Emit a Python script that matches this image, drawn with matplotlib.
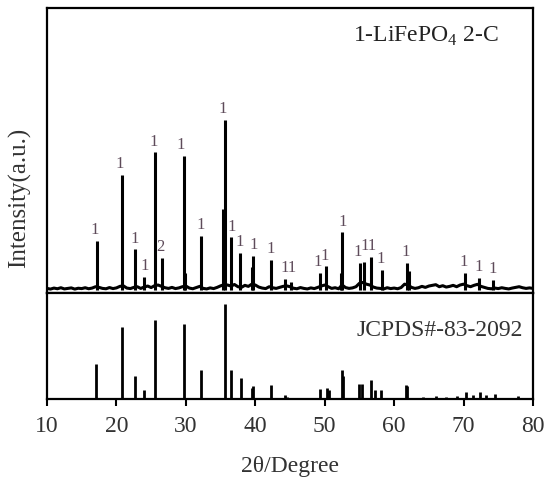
#!/usr/bin/env python3
"""
XRD pattern of LiFePO4/C with JCPDS#-83-2092 reference sticks.
"""

import matplotlib
matplotlib.use('Agg')
import matplotlib.pyplot as plt
import numpy as np

plt.rcParams['font.family'] = ['Liberation Serif', 'DejaVu Serif']
plt.rcParams['mathtext.fontset'] = 'custom'
plt.rcParams['mathtext.rm'] = 'Liberation Serif'

# measured pattern: noisy background sampled every 0.5 deg (10..80)
bg_theta = np.arange(10.0, 80.01, 0.5)
bg_level = [
    1.0, 0.6, 1.2, 0.8, 1.4, 0.7, 1.0, 1.3, 0.6, 1.1, 0.9, 1.4, 0.8, 1.2,
    2.0, 1.6, 1.0, 0.8, 1.5, 0.9, 1.3, 2.2,
    2.5, 1.2, 0.9, 1.6, 2.0, 1.0, 1.8, 2.4,
    1.5, 2.6, 3.0, 2.2, 1.4, 1.0, 1.6, 0.9, 1.3, 2.0,
    2.4, 1.2, 0.8, 1.5, 2.2, 1.0, 0.7, 1.3, 0.9, 1.6,
    2.5, 3.2, 3.0, 2.4, 3.3, 2.0, 1.6, 2.8, 2.2, 3.5,
    3.0, 1.8, 1.2, 0.9, 2.0, 1.4, 1.0, 1.6, 2.2, 2.5,
    2.0, 1.1, 0.8, 1.5, 1.0, 0.7, 1.3, 0.9, 1.6, 2.4,
    3.0, 2.0, 1.0, 1.4, 0.8, 3.0, 1.5, 1.0, 1.3, 2.0,
    4.0, 4.5, 3.5, 3.0, 1.8, 1.2, 1.0, 0.7, 1.4, 0.9,
    1.2, 0.8, 1.5, 3.5, 3.0, 1.6, 1.0, 1.4, 2.2, 1.6,
    2.4, 2.8, 3.2, 2.0, 2.6, 1.8, 2.2, 2.8, 2.0, 3.0,
    3.5, 2.6, 2.0, 2.8, 3.4, 2.2, 1.6, 1.0, 0.8, 1.2,
    0.9, 1.4, 1.0, 0.7, 1.2, 1.6, 2.0, 1.4, 1.0, 1.3, 1.0,
]

# measured pattern: peaks
peak_theta = [17.2, 20.8, 22.7, 24.0, 25.6, 26.5, 29.7, 29.9, 32.2,
              35.35, 35.6, 36.5, 37.8, 39.5, 39.7, 42.2, 44.3, 45.2,
              49.3, 50.2, 52.3, 52.5, 55.1, 55.6, 56.6, 58.3, 61.8, 62.1,
              70.2, 72.2, 74.2]
peak_int = [29, 68, 24, 8, 81, 19, 79, 10, 32,
            48, 100, 31, 22, 13.5, 20, 18, 6.5, 5,
            10, 14, 10, 34, 16, 16.5, 19.5, 12, 16, 11,
            10, 7, 6]

# phase labels (1 = LiFePO4, 2 = C)
label_theta = [16.8, 20.4, 22.6, 24.1, 25.3, 26.3, 29.3, 32.2, 35.3, 36.6,
               37.7, 39.7, 42.2, 44.8, 49.0, 50.0, 52.6, 54.7, 56.3, 58.05,
               61.7, 70.0, 72.2, 74.2]
label_text = ['1', '1', '1', '1', '1', '2', '1', '1', '1', '1',
              '1', '1', '1', '11', '1', '1', '1', '1', '11', '1',
              '1', '1', '1', '1']

# JCPDS#-83-2092 reference sticks
ref_theta = [17.1, 20.8, 22.7, 24.0, 25.6, 29.7, 32.2, 35.6, 36.5, 37.9,
             39.5, 39.7, 42.2, 44.3, 44.6, 46.1, 49.3, 50.3, 50.6, 52.5,
             52.7, 55.0, 55.3, 56.6, 57.3, 58.1, 61.7, 61.9, 64.1, 66.0,
             67.4, 69.0, 70.3, 71.3, 72.3, 73.3, 74.5, 77.9]
ref_int = [37, 76, 24, 9, 83, 79, 31, 100, 31, 22,
           12, 14, 15, 4, 2, 1.5, 10, 12, 9, 30,
           24, 16, 16, 20, 9, 9, 15, 14, 2, 3,
           2, 3, 7, 4, 7, 4, 5, 3]

W, H = 550, 486
fig = plt.figure(figsize=(W / 100, H / 100), dpi=100)
left, right = 47, 533
top_y, mid_y, bot_y = 8, 293, 399
ax_top = fig.add_axes([left / W, 1 - mid_y / H, (right - left) / W, (mid_y - top_y) / H])
ax_bot = fig.add_axes([left / W, 1 - bot_y / H, (right - left) / W, (bot_y - mid_y) / H])

ax_top.plot(bg_theta, bg_level, color='black', lw=2.2)
ax_top.vlines(peak_theta, 0, peak_int, color='black', lw=2.2)
ax_top.set_xlim(10, 80)
ax_top.set_ylim(-1.7, 166)

for lx, lt in zip(label_theta, label_text):
    near = [h for p, h in zip(peak_theta, peak_int) if abs(p - lx) <= 0.55]
    ax_top.annotate(lt, (lx, max(near)), xytext=(0, 2), textcoords='offset points',
                    ha='center', va='bottom', fontsize=12, color='#5e4b5a')

ax_top.text(0.93, 0.9, '1-LiFePO$_4$ 2-C', transform=ax_top.transAxes,
            ha='right', va='center', fontsize=17, color='#222222')

ax_bot.vlines(ref_theta, 0, ref_int, color='black', lw=2.0)
ax_bot.set_xlim(10, 80)
ax_bot.set_ylim(0, 111.5)
ax_bot.text(0.98, 0.65, 'JCPDS#-83-2092', transform=ax_bot.transAxes,
            ha='right', va='center', fontsize=17, color='#333333')

for ax in (ax_top, ax_bot):
    for sp in ax.spines.values():
        sp.set_linewidth(1.6)
    ax.set_yticks([])
ax_top.set_xticks([])
ax_bot.set_xticks(range(10, 81, 10))
ax_bot.tick_params(axis='x', direction='out', length=5, width=1.5,
                   labelsize=17, labelcolor='#333333', pad=7)
ax_bot.set_xlabel('2θ/Degree', fontsize=17, color='#333333', labelpad=14)
fig.text(20 / W, 1 - 198 / H, 'Intensity(a.u.)', rotation=90, ha='center',
         va='center', fontsize=18, color='#333333')

fig.savefig('out.png', dpi=100)
plt.close(fig)
